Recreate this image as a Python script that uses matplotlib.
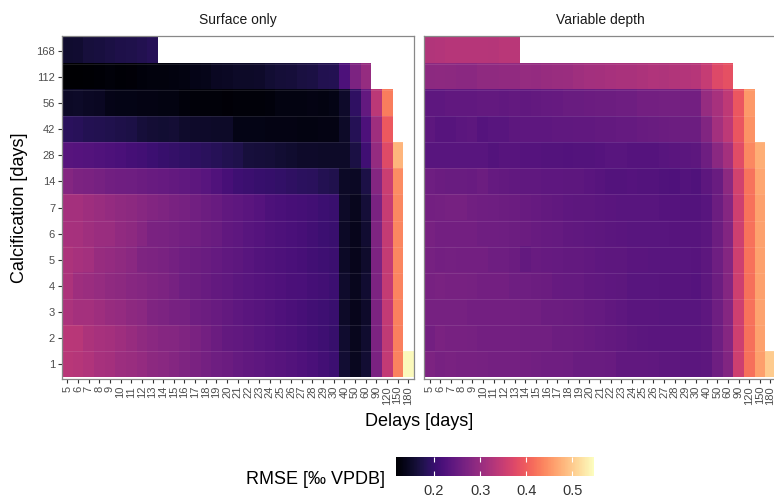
import numpy as np
import matplotlib
matplotlib.use('Agg')
import matplotlib.pyplot as plt

plt.rcParams['font.family'] = ['Liberation Sans', 'DejaVu Sans']

delays = [5, 6, 7, 8, 9, 10, 11, 12, 13, 14, 15, 16, 17, 18, 19, 20, 21, 22, 23,
          24, 25, 26, 27, 28, 29, 30, 40, 50, 60, 90, 120, 150, 180]
calcification = [1, 2, 3, 4, 5, 6, 7, 14, 28, 42, 56, 112, 168]

# RMSE per calcification row (bottom to top), one value per delay; rows stop where the run stops
surface_only = [
    [0.334, 0.331, 0.326, 0.318, 0.315, 0.306, 0.303, 0.297, 0.290, 0.286, 0.280, 0.274, 0.271, 0.264, 0.258, 0.254, 0.248,
     0.244, 0.240, 0.236, 0.232, 0.228, 0.223, 0.218, 0.212, 0.205, 0.158, 0.143, 0.158, 0.271, 0.345, 0.435, 0.543],
    [0.337, 0.334, 0.322, 0.317, 0.314, 0.307, 0.301, 0.293, 0.287, 0.283, 0.280, 0.275, 0.270, 0.262, 0.254, 0.245, 0.243,
     0.238, 0.234, 0.230, 0.226, 0.222, 0.217, 0.212, 0.207, 0.200, 0.155, 0.142, 0.155, 0.272, 0.343, 0.432],
    [0.321, 0.315, 0.314, 0.307, 0.301, 0.297, 0.291, 0.287, 0.276, 0.272, 0.268, 0.265, 0.259, 0.255, 0.250, 0.246, 0.240,
     0.236, 0.232, 0.228, 0.224, 0.220, 0.216, 0.211, 0.207, 0.202, 0.150, 0.140, 0.152, 0.272, 0.345, 0.433],
    [0.323, 0.307, 0.305, 0.300, 0.292, 0.290, 0.284, 0.280, 0.275, 0.272, 0.265, 0.257, 0.255, 0.250, 0.245, 0.242, 0.237,
     0.234, 0.230, 0.227, 0.224, 0.221, 0.218, 0.214, 0.210, 0.206, 0.153, 0.141, 0.157, 0.273, 0.346, 0.437],
    [0.322, 0.318, 0.312, 0.301, 0.297, 0.293, 0.288, 0.274, 0.272, 0.269, 0.264, 0.259, 0.256, 0.253, 0.247, 0.242, 0.238,
     0.233, 0.229, 0.225, 0.222, 0.219, 0.215, 0.211, 0.207, 0.203, 0.148, 0.139, 0.153, 0.272, 0.346, 0.438],
    [0.318, 0.316, 0.309, 0.305, 0.302, 0.294, 0.291, 0.283, 0.271, 0.269, 0.265, 0.263, 0.261, 0.255, 0.252, 0.244, 0.241,
     0.234, 0.231, 0.226, 0.222, 0.219, 0.215, 0.210, 0.206, 0.201, 0.148, 0.139, 0.156, 0.274, 0.347, 0.438],
    [0.315, 0.314, 0.307, 0.303, 0.297, 0.293, 0.289, 0.284, 0.279, 0.274, 0.269, 0.265, 0.260, 0.256, 0.251, 0.244, 0.241,
     0.236, 0.230, 0.222, 0.218, 0.215, 0.213, 0.210, 0.205, 0.202, 0.150, 0.141, 0.162, 0.271, 0.349, 0.441],
    [0.280, 0.273, 0.271, 0.266, 0.261, 0.259, 0.258, 0.254, 0.251, 0.249, 0.245, 0.242, 0.238, 0.234, 0.225, 0.215, 0.207,
     0.203, 0.200, 0.198, 0.195, 0.192, 0.189, 0.186, 0.180, 0.176, 0.148, 0.147, 0.172, 0.280, 0.353, 0.444],
    [0.232, 0.231, 0.228, 0.225, 0.222, 0.218, 0.214, 0.210, 0.206, 0.200, 0.196, 0.193, 0.190, 0.186, 0.183, 0.178, 0.175,
     0.165, 0.163, 0.162, 0.158, 0.154, 0.152, 0.151, 0.150, 0.150, 0.150, 0.170, 0.208, 0.298, 0.377, 0.480],
    [0.186, 0.185, 0.180, 0.178, 0.176, 0.174, 0.172, 0.163, 0.160, 0.158, 0.160, 0.153, 0.152, 0.151, 0.150, 0.150, 0.135,
     0.134, 0.134, 0.133, 0.133, 0.133, 0.132, 0.132, 0.133, 0.133, 0.150, 0.182, 0.222, 0.307, 0.395],
    [0.148, 0.150, 0.147, 0.145, 0.136, 0.135, 0.134, 0.133, 0.133, 0.132, 0.131, 0.126, 0.125, 0.124, 0.124, 0.123, 0.124,
     0.124, 0.125, 0.126, 0.131, 0.132, 0.132, 0.133, 0.132, 0.134, 0.152, 0.192, 0.245, 0.338, 0.430],
    [0.117, 0.118, 0.120, 0.121, 0.124, 0.122, 0.123, 0.127, 0.128, 0.128, 0.129, 0.132, 0.137, 0.138, 0.145, 0.147, 0.150,
     0.150, 0.152, 0.158, 0.162, 0.164, 0.168, 0.170, 0.178, 0.180, 0.222, 0.272, 0.300],
    [0.155, 0.156, 0.165, 0.166, 0.170, 0.174, 0.175, 0.178, 0.183],
]

variable_depth = [
    [0.272, 0.268, 0.269, 0.268, 0.268, 0.265, 0.264, 0.264, 0.264, 0.263, 0.260, 0.259, 0.259, 0.258, 0.253, 0.253, 0.252,
     0.250, 0.244, 0.243, 0.243, 0.242, 0.238, 0.238, 0.237, 0.237, 0.238, 0.258, 0.278, 0.356, 0.418, 0.460, 0.500],
    [0.262, 0.270, 0.267, 0.267, 0.266, 0.263, 0.262, 0.262, 0.262, 0.261, 0.261, 0.260, 0.256, 0.255, 0.254, 0.250, 0.248,
     0.245, 0.244, 0.238, 0.237, 0.236, 0.236, 0.235, 0.235, 0.235, 0.238, 0.258, 0.282, 0.356, 0.418, 0.462],
    [0.265, 0.265, 0.266, 0.265, 0.262, 0.263, 0.263, 0.262, 0.262, 0.261, 0.260, 0.256, 0.255, 0.254, 0.253, 0.249, 0.247,
     0.243, 0.241, 0.236, 0.235, 0.235, 0.234, 0.234, 0.234, 0.234, 0.241, 0.258, 0.282, 0.357, 0.420, 0.464],
    [0.268, 0.269, 0.268, 0.267, 0.266, 0.263, 0.262, 0.262, 0.258, 0.257, 0.255, 0.254, 0.249, 0.248, 0.247, 0.244, 0.242,
     0.240, 0.238, 0.234, 0.233, 0.233, 0.232, 0.232, 0.232, 0.231, 0.238, 0.255, 0.280, 0.356, 0.418, 0.462],
    [0.265, 0.263, 0.264, 0.263, 0.262, 0.262, 0.258, 0.257, 0.254, 0.245, 0.250, 0.249, 0.248, 0.246, 0.245, 0.244, 0.240,
     0.239, 0.238, 0.235, 0.235, 0.234, 0.233, 0.233, 0.233, 0.232, 0.238, 0.258, 0.281, 0.357, 0.420, 0.463],
    [0.268, 0.263, 0.263, 0.263, 0.262, 0.259, 0.259, 0.258, 0.255, 0.254, 0.250, 0.249, 0.248, 0.243, 0.242, 0.241, 0.239,
     0.237, 0.235, 0.234, 0.234, 0.233, 0.233, 0.232, 0.232, 0.232, 0.237, 0.256, 0.279, 0.356, 0.420, 0.462],
    [0.263, 0.264, 0.265, 0.265, 0.261, 0.259, 0.258, 0.255, 0.254, 0.250, 0.249, 0.245, 0.244, 0.240, 0.239, 0.238, 0.237,
     0.236, 0.234, 0.234, 0.233, 0.233, 0.230, 0.230, 0.229, 0.229, 0.233, 0.255, 0.282, 0.357, 0.420, 0.463],
    [0.258, 0.254, 0.253, 0.253, 0.251, 0.255, 0.247, 0.246, 0.243, 0.242, 0.242, 0.241, 0.241, 0.239, 0.238, 0.235, 0.232,
     0.229, 0.229, 0.231, 0.229, 0.228, 0.226, 0.224, 0.228, 0.225, 0.238, 0.253, 0.290, 0.362, 0.422, 0.468],
    [0.234, 0.234, 0.234, 0.233, 0.234, 0.233, 0.229, 0.232, 0.232, 0.230, 0.230, 0.229, 0.228, 0.227, 0.228, 0.228, 0.230,
     0.233, 0.233, 0.231, 0.230, 0.231, 0.234, 0.235, 0.237, 0.238, 0.257, 0.287, 0.315, 0.380, 0.440, 0.474],
    [0.238, 0.232, 0.232, 0.237, 0.239, 0.231, 0.233, 0.233, 0.239, 0.240, 0.240, 0.240, 0.242, 0.242, 0.243, 0.244, 0.245,
     0.246, 0.247, 0.247, 0.250, 0.253, 0.254, 0.255, 0.255, 0.255, 0.278, 0.312, 0.340, 0.392, 0.448],
    [0.240, 0.240, 0.243, 0.243, 0.244, 0.245, 0.245, 0.244, 0.245, 0.243, 0.245, 0.248, 0.249, 0.253, 0.252, 0.254, 0.255,
     0.256, 0.257, 0.257, 0.262, 0.262, 0.264, 0.264, 0.263, 0.262, 0.300, 0.318, 0.342, 0.393, 0.455],
    [0.290, 0.291, 0.290, 0.288, 0.288, 0.292, 0.293, 0.294, 0.295, 0.299, 0.298, 0.301, 0.303, 0.305, 0.309, 0.312, 0.315,
     0.318, 0.319, 0.320, 0.323, 0.326, 0.325, 0.328, 0.330, 0.333, 0.348, 0.375, 0.385],
    [0.328, 0.329, 0.333, 0.333, 0.332, 0.332, 0.331, 0.336, 0.337],
]


def to_grid(rows):
    grid = np.full((len(calcification), len(delays)), np.nan)
    for i, r in enumerate(rows):
        grid[i, :len(r)] = r
    return grid


W, H = 774, 500
fig = plt.figure(figsize=(W / 100, H / 100), dpi=100)
vmin, vmax = 0.117, 0.547

panels = [('Surface only', surface_only, 62), ('Variable depth', variable_depth, 424.3)]
for k, (title, rows, x0) in enumerate(panels):
    ax = fig.add_axes([x0 / W, 1 - 379 / H, 351.5 / W, 343 / H])
    im = ax.imshow(to_grid(rows), cmap='magma', vmin=vmin, vmax=vmax, origin='lower',
                   aspect='auto', interpolation='nearest', extent=(-0.5, 32.5, -0.5, 12.5))
    for yb in np.arange(0.5, 12, 1):
        ax.axhline(yb, color='white', alpha=0.12, lw=0.6)
    ax.set_xlim(-0.5, 32.5)
    ax.set_ylim(-0.57, 12.57)
    ax.set_xticks(range(len(delays)))
    ax.set_xticklabels([str(d) for d in delays], rotation=90)
    ax.set_yticks(range(len(calcification)))
    ax.set_yticklabels([str(c) for c in calcification])
    ax.tick_params(axis='both', length=3, width=0.8, color='#333333', labelsize=8,
                   labelcolor='#4d4d4d', pad=2)
    if k == 1:
        ax.tick_params(axis='y', left=False, labelleft=False)
    for s in ax.spines.values():
        s.set_color('#888888')
        s.set_linewidth(0.9)
    fig.text((x0 + 175.75) / W, 1 - 20 / H, title, ha='center', va='center',
             fontsize=10, color='#1a1a1a')

fig.text(20 / W, 1 - 207.5 / H, 'Calcification [days]', rotation=90, ha='center',
         va='center', fontsize=13)
fig.text(419 / W, 1 - 421 / H, 'Delays [days]', ha='center', va='center', fontsize=13)

cax = fig.add_axes([395.7 / W, 1 - 476 / H, 198.3 / W, 18.7 / H])
cb = fig.colorbar(im, cax=cax, orientation='horizontal')
cb.outline.set_visible(False)
cb.set_ticks([0.2, 0.3, 0.4, 0.5])
cax.tick_params(direction='in', color='white', length=3.5, width=0.8, top=True,
                bottom=True, labelsize=10.5, labelcolor='#333333', pad=6)
fig.text(385 / W, 1 - 480 / H, 'RMSE [‰ VPDB]', ha='right', va='center', fontsize=13)

fig.savefig('out.png', dpi=100)
